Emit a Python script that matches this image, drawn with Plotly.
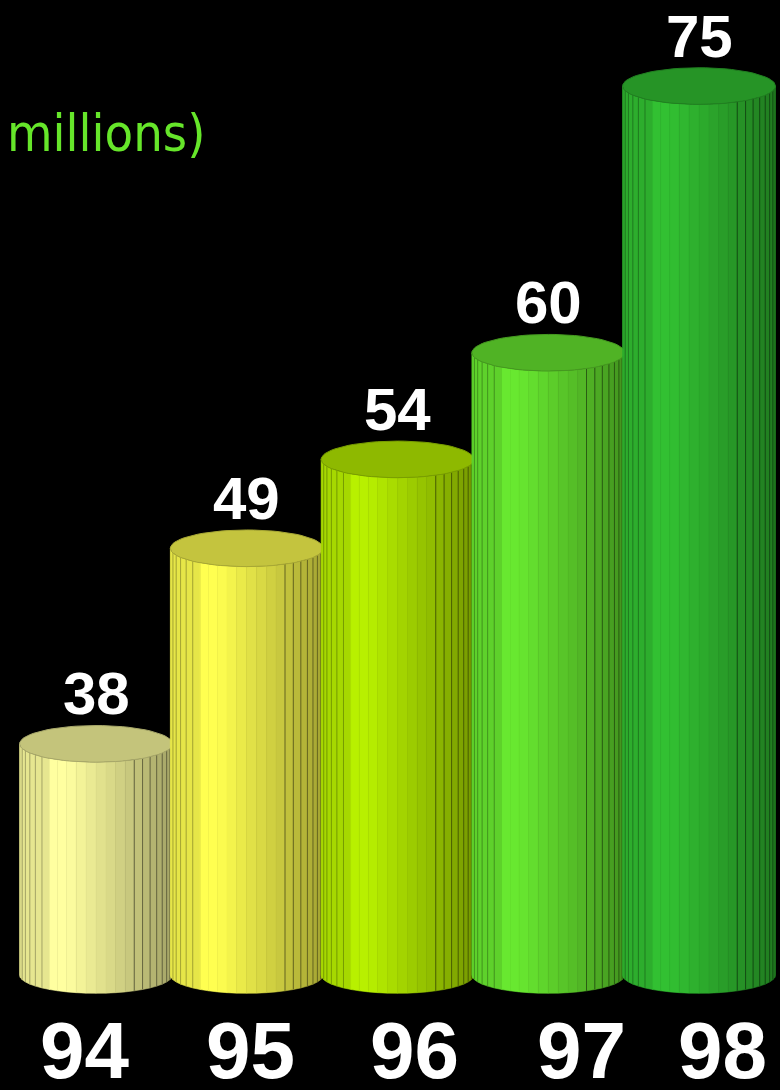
import numpy as np
import plotly.graph_objects as go

# ---- data ----
years = ["94", "95", "96", "97", "98"]
values = [38, 49, 54, 60, 75]
peak_colors = [(255, 255, 160), (255, 255, 80), (184, 240, 0), (104, 232, 48), (50, 192, 50)]
unit_label = "millions)"

# ---- layout / style constants ----
BASE = 25.0          # axis baseline value
HALF_W = 0.507       # cylinder half width (x units)
ELL_H = 1.03         # ellipse half height (y units)
N = 24               # strips per cylinder
year_label_x = [0.108, 0.321, 0.532, 0.746, 0.926]


def shade(c, f):
    return "rgb(%d,%d,%d)" % tuple(max(0, min(255, round(v * f))) for v in c)


def profile(x):
    if x < -0.62:
        return 0.90
    if x < -0.38:
        return 1.0
    return 1.0 - (x + 0.38) / 1.38 * 0.36


fig = go.Figure()
thetas = np.linspace(np.pi, 0, N + 1)

for i, (v, c) in enumerate(zip(values, peak_colors)):
    # body strips
    for k in range(N):
        xa, xb = np.cos(thetas[k]), np.cos(thetas[k + 1])
        sa, sb = np.sin(thetas[k]), np.sin(thetas[k + 1])
        mid = (xa + xb) / 2
        col = shade(c, profile(mid))
        fig.add_trace(go.Scatter(
            x=[i + HALF_W * xa, i + HALF_W * xb, i + HALF_W * xb, i + HALF_W * xa, i + HALF_W * xa],
            y=[v - ELL_H * sa, v - ELL_H * sb, BASE - ELL_H * sb, BASE - ELL_H * sa, v - ELL_H * sa],
            mode="lines", fill="toself", fillcolor=col,
            line=dict(color=col, width=0.6), hoverinfo="skip", showlegend=False))
    # stripe lines
    for side, cond, f in (("L", lambda m: m < -0.64, 0.72), ("R", lambda m: m > 0.45, 0.6)):
        lx, ly = [], []
        for k in range(2, N - 1):
            xa = np.cos(thetas[k])
            if cond(xa):
                sa = np.sin(thetas[k])
                lx += [i + HALF_W * xa, i + HALF_W * xa, None]
                ly += [v - ELL_H * sa, BASE - ELL_H * sa, None]
        fig.add_trace(go.Scatter(x=lx, y=ly, mode="lines",
                                 line=dict(color=shade(c, f * profile(0.9 if side == "R" else -0.9)), width=1),
                                 hoverinfo="skip", showlegend=False))
    # top ellipse
    t = np.linspace(0, 2 * np.pi, 73)
    fig.add_trace(go.Scatter(
        x=i + HALF_W * np.cos(t), y=v + ELL_H * np.sin(t),
        mode="lines", fill="toself", fillcolor=shade(c, 0.77),
        line=dict(color=shade(c, 0.66), width=1), hoverinfo="skip", showlegend=False))

# value labels
for i, v in enumerate(values):
    fig.add_annotation(x=i, y=v, xref="x", yref="y", text=str(v), showarrow=False,
                       yanchor="middle", yshift=50,
                       font=dict(family="Liberation Sans, Arial", size=60, color="white", weight="bold"))

# year labels
for xp, yr in zip(year_label_x, years):
    fig.add_annotation(x=xp, y=1 - 1050 / 1090, xref="paper", yref="paper", text=yr, showarrow=False,
                       xanchor="center", yanchor="middle",
                       font=dict(family="Liberation Sans, Arial", size=80, color="white", weight="bold"))

# unit label
fig.add_annotation(x=5 / 780, y=1 - 133 / 1090, xref="paper", yref="paper", text=unit_label,
                   showarrow=False, xanchor="left", yanchor="middle",
                   font=dict(family="Liberation Sans Narrow, DejaVu Sans Condensed, sans-serif", size=52,
                             color="#66e62a"))

fig.update_layout(
    width=780, height=1090,
    margin=dict(l=0, r=0, t=0, b=0),
    paper_bgcolor="black", plot_bgcolor="black",
    xaxis=dict(range=[-0.637, 4.537], visible=False, fixedrange=True),
    yaxis=dict(range=[18.53, 79.84], visible=False, fixedrange=True),
    showlegend=False,
)

fig.write_html("out.html", config={"displayModeBar": False},
               post_script="document.body.style.margin='0';document.body.style.background='black';")
